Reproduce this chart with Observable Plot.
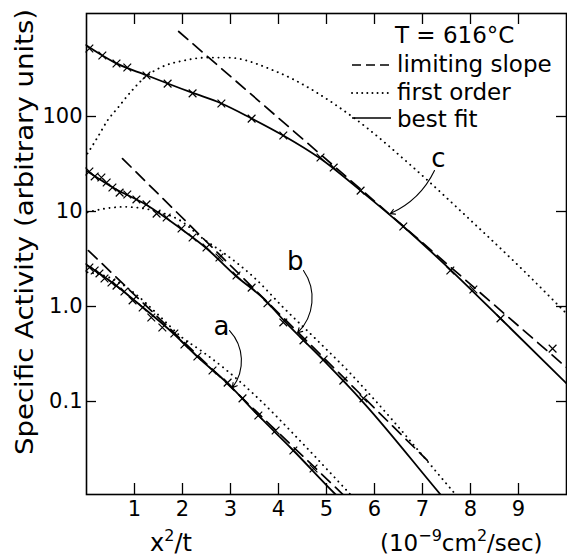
<!DOCTYPE html>
<html>
<head>
<meta charset="utf-8">
<script src="https://cdn.jsdelivr.net/npm/d3@7"></script>
<script src="https://cdn.jsdelivr.net/npm/@observablehq/plot@0.6"></script>
<style>
  html, body { margin: 0; padding: 0; background: white; }
  svg { display: block; }
</style>
</head>
<body>
<div id="chart"></div>
<script>
// ---- axis ticks ----
const xTicks = [1, 2, 3, 4, 5, 6, 7, 8, 9];
const yTicks = [0.1, 1, 10, 100];
const yTickLabels = ["0.1", "1.0", "10", "100"];

// ---- best fit curves (solid) ----
const fitCX = [0, 0.6, 1.25, 2.2, 2.8, 3.42, 4.1, 4.85, 5.71, 6.6, 7.6, 8.625, 10];
const fitCY = [558, 367, 272, 178, 138, 96.6, 63.1, 36.7, 16.6, 6.95, 2.39, 0.748, 0.155];
const fitBX = [0, 0.56, 1.27, 1.96, 2.48, 3.1, 3.69, 4.15, 4.92, 5.77, 7.375, 7.6];
const fitBY = [26.9, 17.8, 11.56, 6.62, 4.18, 2.12, 1.21, 0.679, 0.277, 0.0975, 0.0105, 0.0077];
const fitAX = [0, 0.56, 1.125, 1.81, 2.33, 2.94, 3.58, 4.31, 5.19, 5.4];
const fitAY = [2.75, 1.746, 1.026, 0.52, 0.29, 0.155, 0.0713, 0.0305, 0.0105, 0.0083];

// ---- limiting slope (dashed) ----
const limCX = [1.92, 10];
const limCY = [785, 0.228];
const limBX = [0.75, 7.1];
const limBY = [36.1, 0.024];
const limAX = [0.04, 5.5];
const limAY = [3.88, 0.0088];

// ---- first order (dotted) ----
const foCX = [0.02, 0.23, 0.44, 0.65, 0.94, 1.21, 1.56, 2.04, 2.52, 2.94, 3.92, 5.56, 6.81, 7.94, 9.04, 10];
const foCY = [40.7, 60.3, 91.2, 123, 186, 257, 331, 389, 417, 417, 302, 97.7, 29.0, 8.65, 2.57, 0.843];
const foBX = [0.02, 0.375, 0.79, 1.21, 1.54, 1.96, 2.4, 2.875, 3.5, 4.1, 4.81, 5.5, 5.96, 7.69, 7.9];
const foBY = [9.8, 10.7, 11.2, 10.7, 9.8, 8.0, 5.3, 3.61, 2.0, 0.977, 0.4385, 0.197, 0.110, 0.0105, 0.0079];
const foAX = [0.02, 0.5, 1.0, 1.5, 2.0, 2.4, 2.94, 3.5, 4.5, 5.5, 5.7];
const foAY = [2.29, 2.0, 1.38, 0.813, 0.468, 0.339, 0.209, 0.1175, 0.0363, 0.0105, 0.0082];

// ---- measured points (x markers) ----
const ptCX = [0.06, 0.33, 0.625, 0.85, 1.25, 1.69, 2.21, 2.81, 3.44, 4.1, 4.875, 5.15, 5.71, 6.6, 7.58, 8.06, 8.625, 9.71];
const ptCY = [520, 439, 361, 328, 270, 222, 175, 137, 95, 63, 37, 29, 16.6, 6.95, 2.39, 1.51, 0.75, 0.36];
const ptBX = [0.06, 0.17, 0.31, 0.42, 0.54, 0.69, 0.85, 1.04, 1.25, 1.46, 1.67, 1.98, 2.21, 2.5, 2.77, 3.125, 3.44, 3.77, 4.1, 4.52, 4.94, 5.35, 5.77];
const ptBY = [26.4, 23.4, 22.8, 20.2, 17.9, 15.8, 15.1, 13.4, 11.9, 9.5, 8.65, 6.62, 5.32, 4.18, 3.28, 2.12, 1.58, 1.08, 0.68, 0.44, 0.277, 0.166, 0.108];
const ptAX = [0.06, 0.17, 0.27, 0.375, 0.52, 0.625, 0.79, 0.96, 1.17, 1.35, 1.58, 1.83, 2.04, 2.31, 2.625, 2.94, 3.25, 3.58, 3.94, 4.31, 4.73];
const ptAY = [2.57, 2.39, 2.23, 1.97, 1.79, 1.66, 1.44, 1.16, 0.976, 0.766, 0.601, 0.52, 0.398, 0.298, 0.212, 0.158, 0.108, 0.0713, 0.0495, 0.0305, 0.0197];

// ---- curve labels and leaders ----
const curveNames = ["a", "b", "c"];
const nameX = [2.81, 4.35, 7.33];
const nameY = [0.62, 2.98, 36.1];
const leadX1 = [2.98, 4.52, 7.25];
const leadY1 = [0.559, 2.39, 27];
const leadX2 = [3.04, 4.4, 6.33];
const leadY2 = [0.14, 0.53, 9.5];
const leadBend = [40, 40, 20];

// ---- legend ----
const legendTitle = "T = 616°C";
const legendLabels = ["limiting slope", "first order", "best fit"];

const pts = (xs, ys) => xs.map((x, i) => ({x, y: ys[i]}));
const solid = {x: "x", y: "y", stroke: "black", strokeWidth: 1.8, curve: "monotone-x", clip: true};
const dashed = {x: "x", y: "y", stroke: "black", strokeWidth: 1.7, strokeDasharray: "12,7", clip: true};
const dotted = {x: "x", y: "y", stroke: "black", strokeWidth: 1.9, strokeDasharray: "0.1,5.5", strokeLinecap: "round", curve: "monotone-x", clip: true};
const marker = {x: "x", y: "y", symbol: "times", r: 3.6, stroke: "black", strokeWidth: 1.2};

const leaders = curveNames.map((n, i) => ({n, x1: leadX1[i], y1: leadY1[i], x2: leadX2[i], y2: leadY2[i], bend: leadBend[i]}));
const names = curveNames.map((n, i) => ({n, x: nameX[i], y: nameY[i]}));

const chart = Plot.plot({
  width: 567,
  height: 558,
  marginLeft: 86,
  marginRight: 1,
  marginTop: 13,
  marginBottom: 64,
  style: {fontFamily: "DejaVu Sans", fontSize: "21px", color: "black", background: "white"},
  x: {domain: [0, 10]},
  y: {type: "log", domain: [0.0105, 1214]},
  marks: [
    Plot.axisX(xTicks, {tickSize: 0, tickPadding: 7, label: null, fontSize: 21}),
    Plot.axisY(yTicks, {tickSize: 0, tickPadding: 4, label: null, fontSize: 21,
      tickFormat: d => yTickLabels[yTicks.indexOf(d)]}),
    Plot.ruleX(xTicks, {x: d => d, insetTop: 470, strokeWidth: 1.3}),
    Plot.ruleX(xTicks, {x: d => d, insetBottom: 470, strokeWidth: 1.3}),
    Plot.ruleY(yTicks, {y: d => d, insetRight: 470, strokeWidth: 1.3}),
    Plot.ruleY(yTicks, {y: d => d, insetLeft: 470, strokeWidth: 1.3}),
    Plot.line(pts(foCX, foCY), dotted),
    Plot.line(pts(foBX, foBY), dotted),
    Plot.line(pts(foAX, foAY), dotted),
    Plot.line(pts(limCX, limCY), dashed),
    Plot.line(pts(limBX, limBY), dashed),
    Plot.line(pts(limAX, limAY), dashed),
    Plot.line(pts(fitCX, fitCY), solid),
    Plot.line(pts(fitBX, fitBY), solid),
    Plot.line(pts(fitAX, fitAY), solid),
    Plot.dot(pts(ptCX, ptCY), marker),
    Plot.dot(pts(ptBX, ptBY), marker),
    Plot.dot(pts(ptAX, ptAY), marker),
    ...leaders.map(d => Plot.arrow([d], {x1: "x1", y1: "y1", x2: "x2", y2: "y2", bend: d.bend, headLength: 7, strokeWidth: 1.1})),
    Plot.text(names, {x: "x", y: "y", text: "n", fontSize: 26}),
    Plot.frame({stroke: "black", strokeWidth: 1.6})
  ]
});

document.getElementById("chart").appendChild(chart);

// ---- axis titles and legend ----
const svg = d3.select(chart);
const g = svg.append("g").attr("font-family", "DejaVu Sans").attr("fill", "black").attr("text-anchor", "start");

g.append("text")
  .attr("transform", "translate(33,232) rotate(-90)")
  .attr("text-anchor", "middle")
  .attr("font-size", 25)
  .attr("textLength", 446)
  .attr("lengthAdjust", "spacingAndGlyphs")
  .text("Specific Activity (arbitrary units)");

const xl = g.append("text").attr("x", 150).attr("y", 551).attr("font-size", 24);
xl.append("tspan").text("x");
xl.append("tspan").attr("dy", -10).attr("font-size", 16).text("2");
xl.append("tspan").attr("dy", 10).text("/t");

const ul = g.append("text").attr("x", 380).attr("y", 551).attr("font-size", 23);
ul.append("tspan").text("(10");
ul.append("tspan").attr("dy", -10).attr("font-size", 16).text("−9");
ul.append("tspan").attr("dy", 10).text("cm");
ul.append("tspan").attr("dy", -10).attr("font-size", 16).text("2");
ul.append("tspan").attr("dy", 10).text("/sec)");

g.append("text").attr("x", 395).attr("y", 43).attr("font-size", 23).text(legendTitle);
const rowY = [72, 100, 127];
const sampleY = [65, 93, 118];
const dashes = ["9,5", "0.1,5", null];
legendLabels.forEach((lab, i) => {
  g.append("text").attr("x", 397).attr("y", rowY[i]).attr("font-size", 23).text(lab);
  const ln = g.append("line")
    .attr("x1", 352).attr("x2", 391).attr("y1", sampleY[i]).attr("y2", sampleY[i])
    .attr("stroke", "black").attr("stroke-width", i === 1 ? 1.9 : 1.7);
  if (dashes[i]) ln.attr("stroke-dasharray", dashes[i]);
  if (i === 1) ln.attr("stroke-linecap", "round");
});
</script>
</body>
</html>
